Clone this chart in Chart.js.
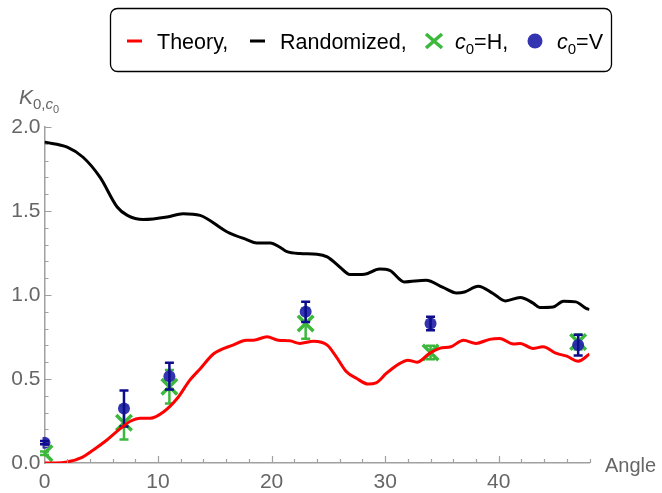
<!DOCTYPE html>
<html>
<head>
<meta charset="utf-8">
<script src="https://cdn.jsdelivr.net/npm/chart.js@4/dist/chart.umd.min.js"></script>
<style>
  html, body { margin: 0; padding: 0; background: #fff; }
  #chart { display: block; }
</style>
</head>
<body>
<canvas id="chart" width="662" height="493"></canvas>
<script>
// theory curve
const theoryX = [0, 1, 2, 3.2, 4.3, 5.5, 6.7, 7.6, 8.4, 9.3, 10.5, 11.7, 12.8, 13.7, 14.9, 16.6, 17.8, 18.4, 19.6, 20.6, 21.6, 22.5, 23.7, 24.9, 25.7, 26.6, 27.5, 28.5, 29.2, 30.1, 31.3, 32.0, 32.8, 33.9, 34.8, 35.8, 36.9, 38.0, 39.2, 40.1, 41.3, 41.9, 43.0, 43.9, 45.1, 46.0, 47.0, 48.0]
const theoryY = [0, 0, 0.006, 0.03, 0.078, 0.137, 0.206, 0.25, 0.266, 0.266, 0.305, 0.385, 0.493, 0.56, 0.65, 0.702, 0.731, 0.731, 0.751, 0.731, 0.727, 0.712, 0.725, 0.702, 0.632, 0.543, 0.503, 0.47, 0.477, 0.533, 0.593, 0.612, 0.6, 0.652, 0.682, 0.692, 0.731, 0.712, 0.736, 0.741, 0.708, 0.712, 0.682, 0.692, 0.652, 0.636, 0.606, 0.648]

// randomized curve
const randomX = [0, 2.0, 3.4, 4.9, 6.4, 7.3, 8.7, 10.8, 12.2, 13.7, 16.1, 17.8, 18.7, 19.9, 20.7, 21.3, 22.5, 24.0, 24.9, 26.0, 26.9, 28.2, 29.5, 30.4, 31.7, 33.6, 35.1, 36.3, 37.0, 38.2, 39.5, 40.6, 41.9, 43.0, 43.6, 44.8, 45.7, 46.8, 47.7, 48.0]
const randomY = [1.91, 1.88, 1.82, 1.70, 1.524, 1.474, 1.449, 1.464, 1.484, 1.474, 1.375, 1.33, 1.31, 1.31, 1.286, 1.26, 1.247, 1.243, 1.227, 1.167, 1.122, 1.124, 1.155, 1.147, 1.078, 1.088, 1.045, 1.012, 1.018, 1.052, 1.009, 0.965, 0.985, 0.953, 0.926, 0.929, 0.963, 0.959, 0.92, 0.914]

// measured angles
const angles = [0, 7, 11, 23, 34, 47]
const hValues = [0.058, 0.24, 0.454, 0.83, 0.658, 0.72]
const hErrors = [0.01, 0.1, 0.1, 0.09, 0.04, 0.045]
const vValues = [0.121, 0.325, 0.517, 0.9, 0.83, 0.702]
const vErrors = [0.01, 0.107, 0.08, 0.06, 0.04, 0.062]

const xTicks = [0, 10, 20, 30, 40]
const yTicks = [0, 0.5, 1.0, 1.5, 2.0]

const family = '"Liberation Sans", Arial, sans-serif'
const gray = '#666'
const axisColor = '#a0a0a0'
const red = '#ff0000'
const green = '#3cb93c'
const blue = 'rgba(35,35,170,0.92)'
const navy = '#0c0c8c'

const pts = (xs, ys) => xs.map((x, i) => ({ x, y: ys[i] }))

function richText(ctx, x, y, parts) {
  parts.forEach(([t, size, italic, dy]) => {
    ctx.font = `${italic ? 'italic ' : ''}${size}px ${family}`
    ctx.fillText(t, x, y + (dy || 0))
    x += ctx.measureText(t).width
  })
  return x
}

const errorBars = {
  id: 'errorBars',
  afterDatasetDraw(chart, args) {
    const ds = chart.data.datasets[args.index]
    if (!ds.errors) return
    const { ctx, scales: { x, y } } = chart
    ctx.save()
    ctx.strokeStyle = ds.errorColor
    ctx.lineWidth = 2.5
    ds.data.forEach((p, i) => {
      const e = ds.errors[i]
      const px = x.getPixelForValue(p.x)
      const top = y.getPixelForValue(p.y + e)
      const bot = y.getPixelForValue(p.y - e)
      ctx.beginPath()
      ctx.moveTo(px, top)
      ctx.lineTo(px, bot)
      ctx.moveTo(px - 4.5, top)
      ctx.lineTo(px + 4.5, top)
      ctx.moveTo(px - 4.5, bot)
      ctx.lineTo(px + 4.5, bot)
      ctx.stroke()
    })
    ctx.restore()
  },
}

const decor = {
  id: 'decor',
  afterDraw(chart) {
    const { ctx, scales: { x, y } } = chart
    ctx.save()
    // inner tick marks
    ctx.strokeStyle = axisColor
    ctx.lineWidth = 1.2
    const y0 = y.getPixelForValue(0)
    const x0 = x.getPixelForValue(0)
    ctx.beginPath()
    for (let v = 2; v <= 48; v += 2) {
      const px = Math.round(x.getPixelForValue(v)) + 0.5
      const len = v % 10 === 0 ? 7 : 4
      ctx.moveTo(px, y0)
      ctx.lineTo(px, y0 - len)
    }
    for (let k = 1; k <= 20; k++) {
      const py = Math.round(y.getPixelForValue(k / 10)) + 0.5
      const len = k % 5 === 0 ? 7 : 4
      ctx.moveTo(x0, py)
      ctx.lineTo(x0 + len, py)
    }
    ctx.stroke()

    // axis titles
    ctx.fillStyle = gray
    ctx.textBaseline = 'alphabetic'
    let tx = richText(ctx, 19, 104, [['K', 21, true, 0]])
    tx = richText(ctx, tx, 104, [['0,', 15, false, 5], ['c', 15, true, 5]])
    richText(ctx, tx, 104, [['0', 11, false, 9]])
    richText(ctx, 605, 472, [['Angle', 20, false, 0]])

    // legend
    ctx.strokeStyle = '#000'
    ctx.lineWidth = 1.3
    ctx.beginPath()
    ctx.roundRect(110.5, 8.5, 501, 63, 7)
    ctx.stroke()
    const ly = 41
    const base = 49
    ctx.lineWidth = 3
    ctx.strokeStyle = red
    ctx.beginPath()
    ctx.moveTo(127, ly)
    ctx.lineTo(142, ly)
    ctx.stroke()
    ctx.strokeStyle = '#000'
    ctx.beginPath()
    ctx.moveTo(250, ly)
    ctx.lineTo(265, ly)
    ctx.stroke()
    ctx.strokeStyle = green
    ctx.lineWidth = 3.5
    ctx.beginPath()
    ctx.moveTo(426, ly - 7)
    ctx.lineTo(442, ly + 7)
    ctx.moveTo(426, ly + 7)
    ctx.lineTo(442, ly - 7)
    ctx.stroke()
    ctx.fillStyle = blue
    ctx.beginPath()
    ctx.arc(535, ly, 7.5, 0, Math.PI * 2)
    ctx.fill()

    ctx.fillStyle = '#000'
    richText(ctx, 157, base, [['Theory,', 21.5, false, 0]])
    richText(ctx, 280, base, [['Randomized,', 21.5, false, 0]])
    richText(ctx, 455, base, [['c', 21.5, true, 0], ['0', 15, false, 5], ['=H,', 21.5, false, 0]])
    richText(ctx, 557, base, [['c', 21.5, true, 0], ['0', 15, false, 5], ['=V', 21.5, false, 0]])
    ctx.restore()
  },
}

new Chart(document.getElementById('chart'), {
  type: 'scatter',
  data: {
    datasets: [
      {
        type: 'line',
        label: 'Theory',
        data: pts(theoryX, theoryY),
        borderColor: red,
        borderWidth: 3,
        pointRadius: 0,
        cubicInterpolationMode: 'monotone',
        fill: false,
      },
      {
        type: 'line',
        label: 'Randomized',
        data: pts(randomX, randomY),
        borderColor: '#000',
        borderWidth: 3,
        pointRadius: 0,
        cubicInterpolationMode: 'monotone',
        fill: false,
      },
      {
        label: 'c0=V',
        data: pts(angles, vValues),
        errors: vErrors,
        errorColor: navy,
        pointStyle: 'circle',
        pointRadius: 6,
        backgroundColor: blue,
        borderWidth: 0,
        clip: { left: 2, top: false, right: false, bottom: false },
      },
      {
        label: 'c0=H',
        data: pts(angles, hValues),
        errors: hErrors,
        errorColor: green,
        pointStyle: 'crossRot',
        pointRadius: 11,
        borderColor: green,
        borderWidth: 3.5,
        clip: { left: 0, top: false, right: false, bottom: false },
      },
    ],
  },
  options: {
    responsive: false,
    animation: false,
    layout: { padding: { top: 127, right: 72.5, left: 0, bottom: 0 } },
    plugins: { legend: { display: false }, tooltip: { enabled: false } },
    scales: {
      x: {
        type: 'linear',
        min: 0,
        max: 48,
        afterFit: (s) => { s.height = 30 },
        afterBuildTicks: (s) => { s.ticks = xTicks.map((value) => ({ value })) },
        grid: { display: true, drawOnChartArea: false, drawTicks: false },
        border: { display: true, color: axisColor, width: 1.5 },
        ticks: { padding: 7, color: gray, font: { size: 21, family } },
      },
      y: {
        type: 'linear',
        min: 0,
        max: 2,
        afterFit: (s) => { s.width = 44.5 },
        afterBuildTicks: (s) => { s.ticks = yTicks.map((value) => ({ value })) },
        grid: { display: true, drawOnChartArea: false, drawTicks: false },
        border: { display: true, color: axisColor, width: 1.5 },
        ticks: {
          padding: 4,
          color: gray,
          font: { size: 21, family },
          callback: (v) => v.toFixed(1),
        },
      },
    },
  },
  plugins: [errorBars, decor],
})
</script>
</body>
</html>
